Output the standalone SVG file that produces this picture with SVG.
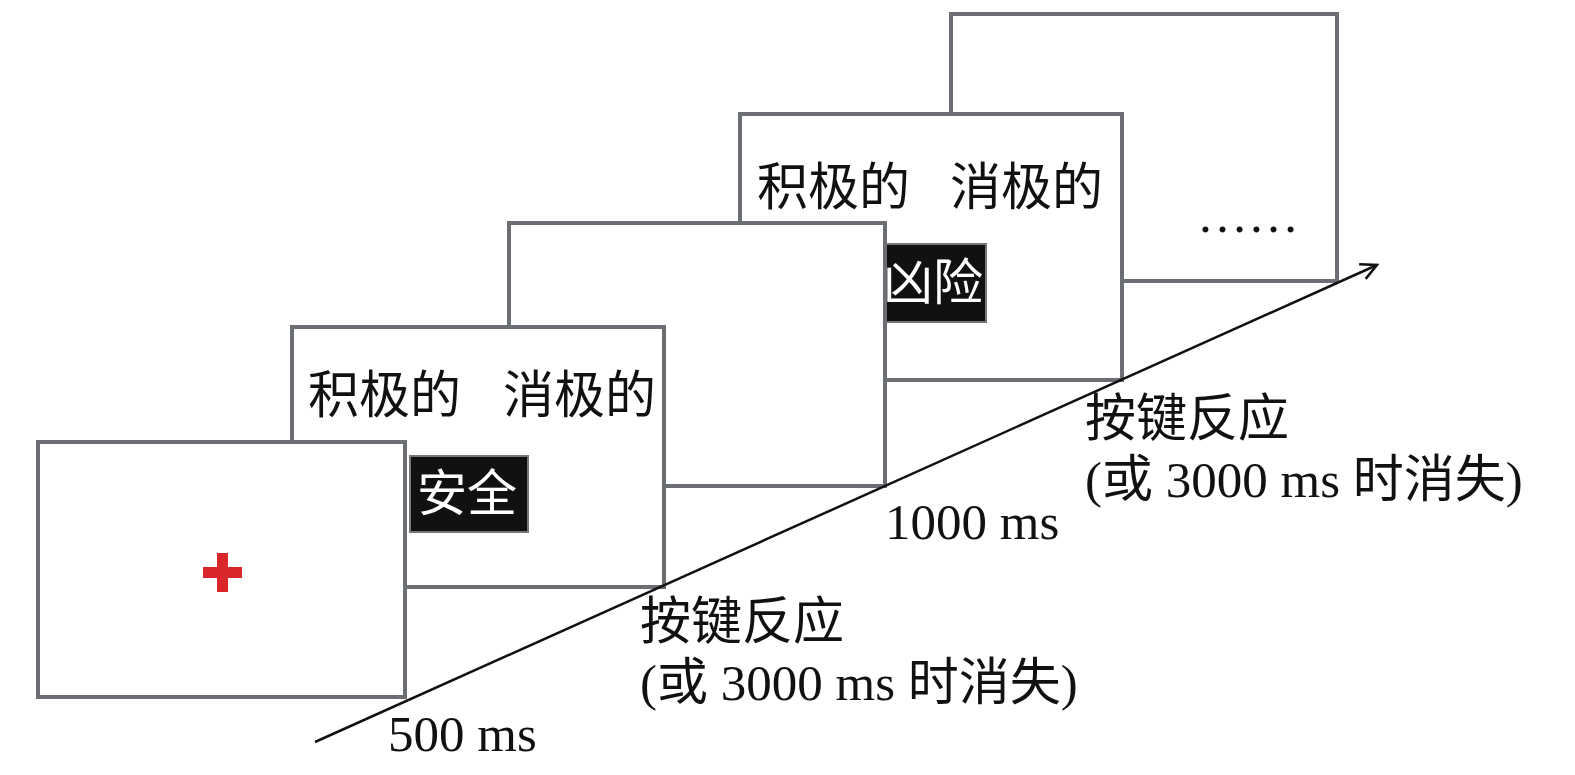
<svg xmlns="http://www.w3.org/2000/svg" width="1575" height="775" viewBox="0 0 1575 775">
<defs>
<style>
.frame{fill:#fff;stroke:#6b6e73;stroke-width:4}
.t{font-family:"Liberation Serif","Noto Sans CJK SC",serif;font-size:51px;fill:#111}
.w{font-family:"Liberation Serif","Noto Sans CJK SC",serif;font-size:50px;fill:#fff}
.blk{fill:#111;stroke:#777;stroke-width:2}
</style>
<marker id="ah" viewBox="0 0 20 20" refX="18" refY="10" markerWidth="20" markerHeight="20" markerUnits="userSpaceOnUse" orient="auto">
<path d="M2,2 L18,10 L2,18" fill="none" stroke="#111" stroke-width="2.5"/>
</marker>
</defs>
<rect width="1575" height="775" fill="#fff"/>
<g id="frame5">
<rect class="frame" x="951" y="14" width="386" height="267"/>
<text class="t" x="1197" y="232" font-size="48">……</text>
</g>
<g id="frame4">
<rect class="frame" x="740" y="114" width="382" height="266"/>
<text class="t" x="757" y="205">积极的</text>
<text class="t" x="950" y="205">消极的</text>
<rect class="blk" x="881" y="244" width="105" height="78"/>
<text class="w" x="883" y="300">凶险</text>
</g>
<g id="frame3">
<rect class="frame" x="509" y="223" width="376" height="263"/>
</g>
<g id="frame2">
<rect class="frame" x="292" y="327" width="372" height="260"/>
<text class="t" x="308" y="413">积极的</text>
<text class="t" x="503" y="413">消极的</text>
<rect class="blk" x="410" y="456" width="118" height="76"/>
<text class="w" x="417" y="511">安全</text>
</g>
<g id="frame1">
<rect class="frame" x="38" y="442" width="367" height="255"/>
<path d="M203,567 H242 V578 H203 Z M217,553 H228 V592 H217 Z" fill="#d9262a"/>
</g>
<g id="connectors">
<line x1="315" y1="742" x2="1377" y2="265" stroke="#111" stroke-width="2.5" marker-end="url(#ah)"/>
</g>
<g id="labels">
<text class="t" x="388" y="751">500 ms</text>
<text class="t" x="640" y="639">按键反应</text>
<text class="t" x="640" y="700">(或 3000 ms 时消失)</text>
<text class="t" x="885" y="539">1000 ms</text>
<text class="t" x="1085" y="436">按键反应</text>
<text class="t" x="1085" y="497">(或 3000 ms 时消失)</text>
</g>
</svg>
